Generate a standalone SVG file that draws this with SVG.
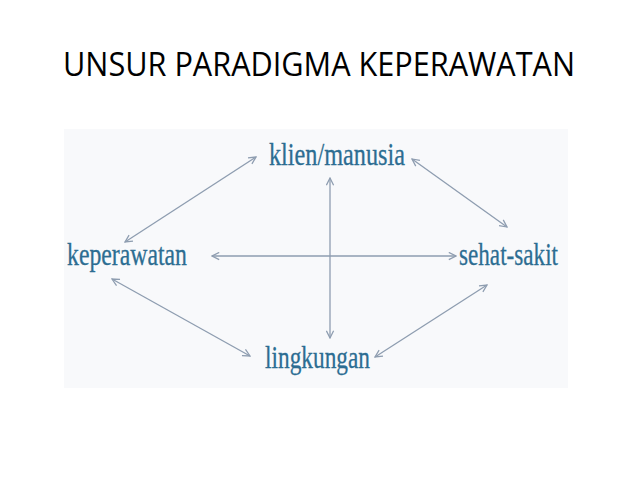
<svg xmlns="http://www.w3.org/2000/svg" width="638" height="479" viewBox="0 0 638 479">
<defs>
<style>
.title{font-family:"Open Sans","Noto Sans","Liberation Sans",sans-serif;font-size:32px;fill:#000}
.lbl{font-family:"Liberation Serif","DejaVu Serif",serif;font-size:32px;fill:#2c6d92;stroke:#2c6d92;stroke-width:0.3}
.con{stroke:#8e9db0;stroke-width:1.3;fill:none;marker-start:url(#ah);marker-end:url(#ah)}
</style>
<marker id="ah" viewBox="0 0 10 10" refX="9" refY="5" markerWidth="9" markerHeight="9" markerUnits="userSpaceOnUse" orient="auto-start-reverse">
<path d="M1,1 L9,5 L1,9" fill="none" stroke="#8e9db0" stroke-width="1.4"/>
</marker>
</defs>
<rect width="638" height="479" fill="#ffffff"/>
<text class="title" x="63" y="76" textLength="512" lengthAdjust="spacingAndGlyphs">UNSUR PARADIGMA KEPERAWATAN</text>
<rect x="64" y="129" width="504" height="259" fill="#f8f9fb"/>
<g id="connectors">
<line class="con" x1="125" y1="242" x2="256" y2="157"/>
<line class="con" x1="412" y1="159" x2="507" y2="227"/>
<line class="con" x1="212" y1="256" x2="456" y2="256"/>
<line class="con" x1="330" y1="178" x2="330" y2="338"/>
<line class="con" x1="112" y1="279" x2="250" y2="356"/>
<line class="con" x1="487" y1="285" x2="375" y2="357"/>
</g>
<g id="klien"><text class="lbl" x="269" y="165" textLength="136" lengthAdjust="spacingAndGlyphs">klien/manusia</text></g>
<g id="keperawatan"><text class="lbl" x="67" y="265" textLength="120" lengthAdjust="spacingAndGlyphs">keperawatan</text></g>
<g id="sehat"><text class="lbl" x="459" y="265" textLength="99" lengthAdjust="spacingAndGlyphs">sehat-sakit</text></g>
<g id="lingkungan"><text class="lbl" x="265" y="368" textLength="105" lengthAdjust="spacingAndGlyphs">lingkungan</text></g>
</svg>
